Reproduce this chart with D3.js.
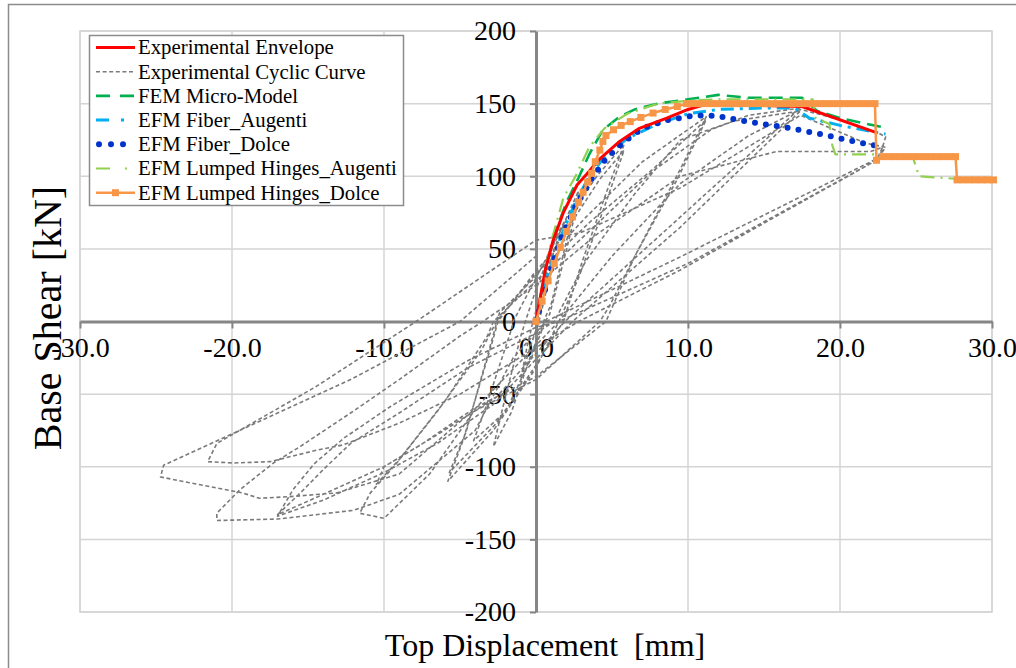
<!DOCTYPE html>
<html>
<head>
<meta charset="utf-8">
<script src="https://cdn.jsdelivr.net/npm/d3@7"></script>
<style>
  html, body { margin: 0; padding: 0; background: #fff; }
  svg { display: block; }
  text { font-family: "Liberation Serif", "Times New Roman", serif; fill: #000; }
</style>
</head>
<body>
<svg id="chart" width="1016" height="668"></svg>
<script>
// ---- axis ticks ----
const xTicks = [-30, -20, -10, 0, 10, 20, 30];
const yTicks = [-200, -150, -100, -50, 0, 50, 100, 150, 200];

// ---- legend labels ----
const seriesNames = [
  "Experimental Envelope",
  "Experimental Cyclic Curve",
  "FEM Micro-Model",
  "EFM Fiber_Augenti",
  "EFM Fiber_Dolce",
  "EFM Lumped Hinges_Augenti",
  "EFM Lumped Hinges_Dolce"
];

// ---- series: [top displacement (mm), base shear (kN)] ----
const cyclicCurve = [
  [0,0],[0.5,28],[1.2,50],[0.7,22],[0.2,0],[-0.4,-18],[-1.0,-40],[-0.6,-18],[-0.2,0],
  [0.6,30],[1.6,62],[2.8,90],[2.0,55],[1.0,12],[0.5,0],[-0.4,-25],[-1.6,-62],[-2.8,-86],[-2.2,-60],[-1.0,-10],[-0.7,0],
  [0,22],[1.4,60],[2.9,88],[1.9,45],[0.9,5],[0.6,0],[-0.3,-25],[-2.0,-62],[-4.1,-82],[-3.4,-62],[-1.6,-5],[-1.5,0],
  [0,30],[2.0,70],[4.0,100],[5.8,122],[4.6,88],[3.0,40],[1.8,0],[0,-30],[-2.6,-70],[-5.7,-104],[-4.6,-76],[-2.4,6],
  [0,31],[2.2,66],[4.2,98],[5.8,118],[4.4,76],[2.8,30],[1.5,0],[0,-32],[-2.8,-75],[-5.8,-110],[-4.8,-82],[-2.9,-15],[-2.5,0],
  [0,35],[3.3,72],[7.0,110],[11.2,141],[9.5,105],[7.0,55],[4.8,10],[4.2,0],[0,-40],[-4.1,-62],[-7.0,-105],[-10.0,-135.5],[-11.6,-132],[-10.9,-118],[-9.2,-98],[-6.5,-62],[-3.6,-20],[-2.6,0],
  [0,33],[3.6,69],[7.7,105],[11.2,139],[9.3,98],[6.5,45],[4.6,0],[0,-38],[-4.1,-60],[-7.6,-85],[-10.0,-100],[-10.5,-112],[-9.0,-95],[-6.0,-55],[-3.2,-10],[-2.8,0],
  [0,28],[3.9,66],[7.6,103],[11.5,132],[14,142],[17.4,147],[9.5,72],[1.9,0],[0,-22],[-2.6,-52],[-6.5,-78],[-10.0,-100],[-14,-119],[-17,-133],
  [-15.5,-118],[-14,-102],[-12.2,-84],[-9,-63],[-4.5,-32],[0,-8],[1.2,0],
  [3.3,42],[6.5,88],[9.5,125],[13,138],[17.4,145],[9.5,65],[2.4,0],[0,-26],[-2.8,-57],[-6.5,-84],[-10.0,-104],[-14,-123],[-17,-134],
  [-16,-116],[-14.6,-98],[-12.6,-80],[-9.5,-58],[-4.5,-27],[0,-4],[1.5,0],
  [5,45],[9.5,95],[14,128],[17.4,146],[20,139],[22.5,130],[23,127],[22.6,113],[9.5,44.5],[0.65,0],[-1.5,-25],[-4,-75],[-9,-119],[-12,-130],[-17,-136],[-21,-137],
  [-21,-132],[-19.5,-116],[-17.3,-97.6],[-15.5,-86],[-12.2,-63],[-9,-40],[-5,-10],[-3.5,0],
  [0,25],[4,60],[9.5,100],[15.8,117],[22,117],[22.8,120],[22.4,111],[9.5,35.5],[2.8,0],[0,-18],[-5,-50],[-9,-70],[-12.7,-85],[-14.4,-88.5],[-17.5,-96.5],[-19.9,-97.4],[-21.6,-96.5],
  [-21,-84],[-14.5,-45],[-7.6,2],[0,56],[2.9,61],[9.5,92],[17.4,142],[21.7,122.7],[23,120],[22.4,111],
  [10,40],[1.5,0],[-4,-60],[-9,-105],[-13.1,-118],[-16.2,-120.6],[-18.2,-121.7],[-19.3,-118],[-22.8,-111],[-24.7,-107],[-24.5,-99],
  [-12.2,-40],[-5,0],[0,45]
];

const envelope = [
  [0,0],[0.6,35],[1.1,55],[1.8,75],[2.7,94],[3.3,101],[4.2,112],[5.5,124],[6.8,133],[8.6,140],
  [10,146],[11,149],[14,149],[17.5,148],[22.4,130]
];

const femMicro = [
  [0,0],[0.7,40],[1.3,62],[2,82],[2.8,99],[3.5,115],[4.4,132],[5.5,141],[6.5,146],[8,150],
  [10,153],[12,156],[14,154],[17.5,154],[18.5,145],[20,140],[22.7,134]
];

const fiberAugenti = [
  [0,0],[0.7,30],[1.5,55],[2.5,80],[3.5,100],[4.5,113],[6,126],[8,136],[10,143],[12,146],
  [15,147],[17,147],[18,140],[20,135],[23,129]
];

const fiberDolce = [
  [0,0],[0.9,33],[1.6,56],[2.6,79],[3.7,99],[4.6,112],[5.7,123],[7,133],[8.6,138.5],[10.2,141.5],
  [11,142],[11.9,141.5],[13.4,138.5],[14.9,136],[16.5,133.5],[18,130.5],[19.6,127],[21.1,123.5],[22.7,120.5]
];

const hingesAugenti = [
  [0,0],[0.5,30],[1,55],[1.8,85],[2.6,100],[3.5,120],[4.5,133],[6,143],[8,150],[10,152],
  [12,153],[15,153],[18.2,153],[18.4,140],[19.3,136],[19.5,121],[19.7,115],[22.5,115],[22.6,113],
  [24.8,113],[25.2,100],[28,98]
];

const hingesDolce = [
  [0,0],[0.4,14],[0.8,28],[1.2,40],[1.6,51],[2.0,62],[2.4,72],[2.8,82],[3.1,89],[3.4,96],
  [3.66,102],[3.9,110],[4.2,118],[4.4,124],[4.6,128],[5.1,132],[5.6,135],[6.2,137.6],[6.9,140.5],
  [7.7,143.5],[8.5,146],[9.3,148],[9.9,150],[10.3,150],[10.7,150],[11.1,150],[11.5,150],[11.9,150],
  [12.3,150],[12.7,150],[13.1,150],[13.5,150],[13.9,150],[14.3,150],[14.7,150],[15.1,150],[15.5,150],
  [15.9,150],[16.3,150],[16.7,150],[17.1,150],[17.5,150],[17.9,150],[18.3,150],[18.7,150],[19.1,150],
  [19.5,150],[19.9,150],[20.3,150],[20.7,150],[21.1,150],[21.5,150],[21.9,150],[22.3,150],
  [22.4,111],[22.8,113.5],[23.2,113.5],[23.6,113.5],[24.0,113.5],[24.4,113.5],[24.8,113.5],[25.2,113.5],
  [25.6,113.5],[26.0,113.5],[26.4,113.5],[26.8,113.5],[27.2,113.5],[27.6,113.5],
  [27.7,97.5],[28.1,97.5],[28.5,97.5],[28.9,97.5],[29.3,97.5],[29.7,97.5],[30.1,97.5]
];

// ---- layout ----
const svg = d3.select("#chart");
const W = 1016, H = 668;
const plot = { left: 80, right: 992, top: 31, bottom: 612 };

const x = d3.scaleLinear().domain([-30, 30]).range([plot.left, plot.right]);
const y = d3.scaleLinear().domain([-200, 200]).range([plot.bottom, plot.top]);

// outer frame
svg.append("rect").attr("x", 8.5).attr("y", 4.5).attr("width", W - 5).attr("height", H + 5)
  .attr("fill", "#fff").attr("stroke", "#8c8c8c").attr("stroke-width", 1.5);

// plot area frame
svg.append("rect")
  .attr("x", plot.left).attr("y", plot.top)
  .attr("width", plot.right - plot.left).attr("height", plot.bottom - plot.top)
  .attr("fill", "none").attr("stroke", "#d4d4d4").attr("stroke-width", 1.5);

// gridlines
const grid = svg.append("g").attr("stroke", "#d4d4d4").attr("stroke-width", 1.5);
grid.selectAll("line.v").data(xTicks.filter(d => d !== 0)).join("line")
  .attr("x1", d => x(d)).attr("x2", d => x(d)).attr("y1", plot.top).attr("y2", plot.bottom);
grid.selectAll("line.h").data(yTicks.filter(d => d !== 0)).join("line")
  .attr("y1", d => y(d)).attr("y2", d => y(d)).attr("x1", plot.left).attr("x2", plot.right);

// axes crossing at the origin
const xAxis = d3.axisBottom(x).tickValues(xTicks).tickSize(7).tickSizeOuter(0).tickPadding(6)
  .tickFormat(d => d.toFixed(1));
const yAxis = d3.axisLeft(y).tickValues(yTicks).tickSize(6).tickSizeOuter(0).tickPadding(14)
  .tickFormat(d => String(d));

const gx = svg.append("g").attr("transform", `translate(0,${y(0)})`).call(xAxis);
const gy = svg.append("g").attr("transform", `translate(${x(0)},0)`).call(yAxis);
[gx, gy].forEach(g => {
  g.select(".domain").attr("stroke", "#868686").attr("stroke-width", 3);
  g.selectAll(".tick line").attr("stroke", "#868686").attr("stroke-width", 2);
  g.selectAll(".tick text").attr("font-family", "Liberation Serif").attr("font-size", 28).attr("fill", "#000");
});
gx.selectAll(".tick text").attr("dy", "0.8em");

// axis titles
svg.append("text").attr("x", 545).attr("y", 656).attr("text-anchor", "middle")
  .attr("font-size", 32).text("Top Displacement\u00a0 [mm]");
svg.append("text").attr("transform", "translate(61,318) rotate(-90)").attr("text-anchor", "middle")
  .attr("font-size", 40).text("Base Shear [kN]");

// ---- series ----
const line = d3.line().x(d => x(d[0])).y(d => y(d[1]));
const series = svg.append("g");

const styles = [
  { data: cyclicCurve, stroke: "#7a7a7a", width: 1.6, dash: "4,2.6" },
  { data: femMicro, stroke: "#00b050", width: 2.6, dash: "14,7" },
  { data: fiberAugenti, stroke: "#00b0f0", width: 3, dash: "13,6,3,6" },
  { data: hingesAugenti, stroke: "#92d050", width: 2.2, dash: "14,6,2,6" },
  { data: fiberDolce, stroke: "#0033cc", width: 6, dash: "0,11", cap: "round" },
  { data: envelope, stroke: "#ff0000", width: 3, dash: null },
  { data: hingesDolce, stroke: "#f79646", width: 2.5, dash: null }
];
styles.forEach(s => {
  series.append("path").datum(s.data).attr("d", line)
    .attr("fill", "none").attr("stroke", s.stroke).attr("stroke-width", s.width)
    .attr("stroke-dasharray", s.dash).attr("stroke-linecap", s.cap || "butt")
    .attr("stroke-linejoin", "round");
});
series.selectAll("rect.mk").data(hingesDolce).join("rect").attr("class", "mk")
  .attr("x", d => x(d[0]) - 3.5).attr("y", d => y(d[1]) - 3.5)
  .attr("width", 7).attr("height", 7).attr("fill", "#f79646");

// ---- legend ----
const lg = svg.append("g");
lg.append("rect").attr("x", 89.5).attr("y", 35.5).attr("width", 314).attr("height", 170)
  .attr("fill", "#fff").attr("stroke", "#8c8c8c").attr("stroke-width", 1.5);
const legendStyles = [
  { stroke: "#ff0000", width: 3, dash: null },
  { stroke: "#7a7a7a", width: 1.6, dash: "4,2.6" },
  { stroke: "#00b050", width: 2.6, dash: "14,10" },
  { stroke: "#00b0f0", width: 3, dash: "13,12,3,20" },
  { stroke: "#0033cc", width: 6, dash: "0,12", cap: "round" },
  { stroke: "#92d050", width: 2.2, dash: "14,15,2,20" },
  { stroke: "#f79646", width: 2.5, dash: null, marker: true }
];
seriesNames.forEach((name, i) => {
  const yy = 47.5 + i * 24.2;
  const s = legendStyles[i];
  lg.append("line").attr("x1", s.cap ? 99 : 96).attr("x2", 135).attr("y1", yy).attr("y2", yy)
    .attr("stroke", s.stroke).attr("stroke-width", s.width)
    .attr("stroke-dasharray", s.dash).attr("stroke-linecap", s.cap || "butt");
  if (s.marker) {
    lg.append("rect").attr("x", 112).attr("y", yy - 3.5).attr("width", 7).attr("height", 7).attr("fill", s.stroke);
  }
  lg.append("text").attr("x", 138).attr("y", yy).attr("dy", "0.33em")
    .attr("font-size", 20.8).text(name);
});
</script>
</body>
</html>
